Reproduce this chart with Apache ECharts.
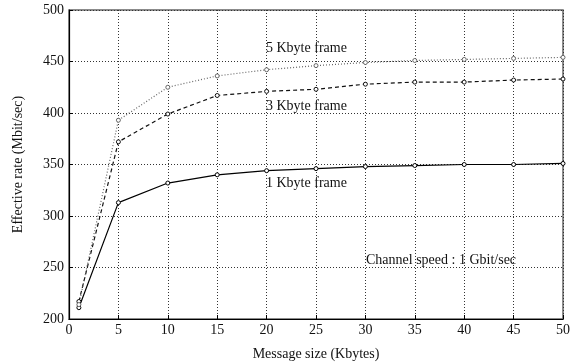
<!DOCTYPE html>
<html>
<head>
<meta charset="utf-8">
<script src="https://cdn.jsdelivr.net/npm/echarts@6/dist/echarts.min.js"></script>
<style>
  html, body { margin: 0; padding: 0; background: #fff; }
  #main { width: 573px; height: 364px; }
</style>
</head>
<body>
<div id="main"></div>
<script>
// message sizes (Kbytes)
var sizes = [1, 5, 10, 15, 20, 25, 30, 35, 40, 45, 50];
var frame1k = [211, 313, 332, 340, 344, 346, 348, 349, 350, 350, 351];
var frame3k = [217, 372, 399, 417, 421, 423, 428, 430, 430, 432, 433];
var frame5k = [214, 393, 425, 436, 442, 446, 449, 451, 452, 453, 454];

var serif = 'Liberation Serif';

function pairs(vals) {
    var out = [];
    for (var i = 0; i < sizes.length; i++) {
        out.push([sizes[i], vals[i]]);
    }
    return out;
}

function line(name, vals, color, type) {
    return {
        name: name,
        type: 'line',
        data: pairs(vals),
        symbol: 'circle',
        symbolSize: 4,
        itemStyle: { color: '#fff', borderColor: color, borderWidth: 1 },
        lineStyle: { color: color, width: 1.2, type: type },
        animation: false
    };
}

var myChart = echarts.init(document.getElementById('main'));

var option = {
    backgroundColor: '#fff',
    grid: {
        left: 69, right: 10, top: 10, bottom: 45,
        outerBoundsMode: 'none',
        containLabel: false,
        show: true,
        borderColor: '#666',
        borderWidth: 1.5
    },
    xAxis: {
        type: 'value',
        min: 0, max: 50, interval: 5,
        name: 'Message size (Kbytes)',
        nameLocation: 'middle',
        nameGap: 28,
        nameTextStyle: { fontFamily: serif, fontSize: 14, color: '#111' },
        axisLine: { lineStyle: { color: '#000', width: 1.2 } },
        axisTick: { inside: true, length: 4, lineStyle: { color: '#000' } },
        axisLabel: { fontFamily: serif, fontSize: 14, color: '#111', margin: 4 },
        splitLine: { lineStyle: { color: '#333', type: [1, 2], width: 1 } }
    },
    yAxis: {
        type: 'value',
        min: 200, max: 500, interval: 50,
        name: 'Effective rate (Mbit/sec)',
        nameLocation: 'middle',
        nameGap: 44,
        nameTextStyle: { fontFamily: serif, fontSize: 14, color: '#111' },
        axisLine: { show: true, lineStyle: { color: '#000', width: 1.2 } },
        axisTick: { show: true, inside: true, length: 4, lineStyle: { color: '#000' } },
        axisLabel: { fontFamily: serif, fontSize: 14, color: '#111', margin: 5 },
        splitLine: { lineStyle: { color: '#333', type: [1, 2], width: 1 } }
    },
    series: [
        line('1 Kbyte frame', frame1k, '#000', 'solid'),
        line('3 Kbyte frame', frame3k, '#111', [4, 3]),
        line('5 Kbyte frame', frame5k, '#666', [1, 2])
    ],
    graphic: [
        { type: 'text', left: 266, top: 41, style: { text: '5 Kbyte frame', font: '14px "Liberation Serif"', fill: '#111' } },
        { type: 'text', left: 266, top: 99, style: { text: '3 Kbyte frame', font: '14px "Liberation Serif"', fill: '#111' } },
        { type: 'text', left: 266, top: 176, style: { text: '1 Kbyte frame', font: '14px "Liberation Serif"', fill: '#111' } },
        { type: 'text', left: 366, top: 253, style: { text: 'Channel speed : 1 Gbit/sec', font: '14px "Liberation Serif"', fill: '#111' } }
    ]
};

myChart.setOption(option);
</script>
</body>
</html>
